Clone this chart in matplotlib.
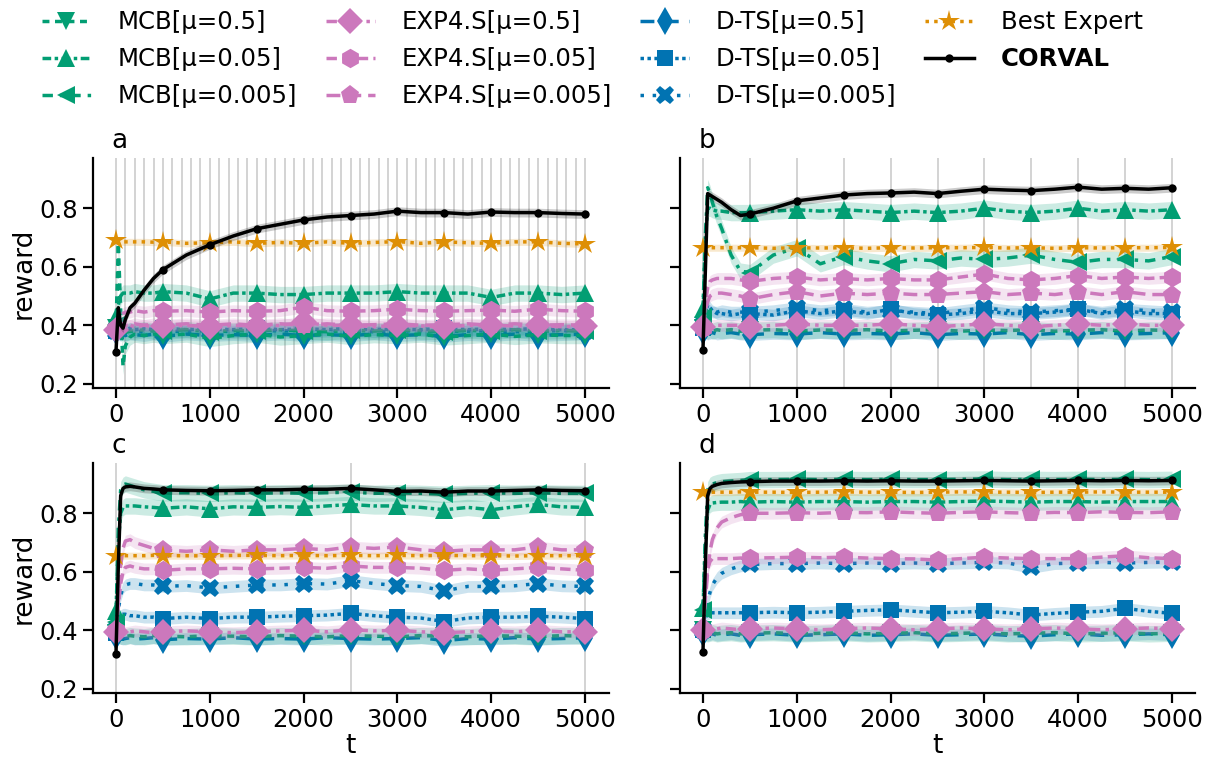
import numpy as np
import matplotlib
matplotlib.use("Agg")
import matplotlib.pyplot as plt

plt.rcParams["font.family"] = ["DejaVu Sans"]

# time steps at which the curves were logged
T = [0, 25, 50, 75, 100, 150, 200,
     300, 400, 500, 750, 1000, 1250, 1500,
     1750, 2000, 2250, 2500, 2750, 3000, 3250,
     3500, 3750, 4000, 4250, 4500, 4750, 5000]

# ---- panel a ----
a_mcb1 = [0.39, 0.68, 0.45, 0.26, 0.33, 0.36, 0.37,
          0.365, 0.37, 0.365, 0.37, 0.355, 0.365, 0.37,
          0.36, 0.365, 0.37, 0.362, 0.368, 0.365, 0.37,
          0.36, 0.365, 0.37, 0.362, 0.368, 0.365, 0.365]
a_mcb2 = [0.43, 0.47, 0.50, 0.51, 0.51, 0.51, 0.515,
          0.51, 0.51, 0.515, 0.51, 0.49, 0.51, 0.51,
          0.505, 0.505, 0.51, 0.51, 0.51, 0.515, 0.51,
          0.51, 0.51, 0.495, 0.51, 0.51, 0.505, 0.51]
a_mcb3 = [0.40, 0.43, 0.39, 0.37, 0.375, 0.38, 0.38,
          0.385, 0.38, 0.38, 0.385, 0.378, 0.382, 0.38,
          0.385, 0.38, 0.378, 0.383, 0.38, 0.385, 0.38,
          0.378, 0.383, 0.38, 0.385, 0.38, 0.382, 0.38]
a_exp1 = [0.385, 0.39, 0.395, 0.395, 0.395, 0.40, 0.395,
          0.40, 0.395, 0.398, 0.40, 0.395, 0.40, 0.398,
          0.40, 0.41, 0.40, 0.40, 0.395, 0.40, 0.398,
          0.395, 0.40, 0.40, 0.398, 0.40, 0.395, 0.398]
a_exp2 = [0.39, 0.41, 0.43, 0.44, 0.445, 0.445, 0.45,
          0.445, 0.45, 0.448, 0.45, 0.445, 0.45, 0.448,
          0.45, 0.462, 0.45, 0.448, 0.45, 0.455, 0.45,
          0.448, 0.45, 0.452, 0.448, 0.455, 0.45, 0.448]
a_exp3 = [0.39, 0.40, 0.40, 0.405, 0.40, 0.40, 0.405,
          0.40, 0.405, 0.40, 0.405, 0.40, 0.405, 0.40,
          0.405, 0.40, 0.405, 0.40, 0.402, 0.405, 0.40,
          0.402, 0.405, 0.40, 0.405, 0.40, 0.402, 0.40]
a_dts1 = [0.38, 0.37, 0.365, 0.37, 0.365, 0.37, 0.368,
          0.365, 0.37, 0.362, 0.37, 0.365, 0.368, 0.365,
          0.37, 0.365, 0.368, 0.365, 0.37, 0.365, 0.368,
          0.362, 0.368, 0.365, 0.37, 0.365, 0.368, 0.37]
a_dts2 = [0.38, 0.385, 0.39, 0.385, 0.385, 0.39, 0.385,
          0.388, 0.385, 0.39, 0.385, 0.388, 0.385, 0.39,
          0.385, 0.388, 0.385, 0.39, 0.385, 0.388, 0.385,
          0.39, 0.385, 0.388, 0.385, 0.39, 0.385, 0.385]
a_dts3 = [0.38, 0.375, 0.38, 0.378, 0.38, 0.382, 0.378,
          0.38, 0.382, 0.378, 0.38, 0.382, 0.378, 0.38,
          0.382, 0.378, 0.38, 0.382, 0.378, 0.38, 0.382,
          0.378, 0.38, 0.382, 0.378, 0.38, 0.382, 0.38]
a_best = [0.69, 0.685, 0.685, 0.685, 0.685, 0.685, 0.685,
          0.685, 0.684, 0.685, 0.68, 0.682, 0.685, 0.68,
          0.683, 0.68, 0.685, 0.68, 0.683, 0.686, 0.68,
          0.685, 0.682, 0.68, 0.685, 0.685, 0.68, 0.678]
a_corval = [0.31, 0.46, 0.40, 0.39, 0.42, 0.46, 0.475,
            0.52, 0.56, 0.59, 0.64, 0.675, 0.705, 0.73,
            0.745, 0.76, 0.77, 0.775, 0.78, 0.79, 0.785,
            0.785, 0.78, 0.787, 0.785, 0.785, 0.782, 0.78]

# ---- panel b ----
b_mcb1 = [0.39, 0.385, 0.38, 0.385, 0.38, 0.385, 0.382,
          0.385, 0.38, 0.383, 0.385, 0.38, 0.384, 0.382,
          0.385, 0.38, 0.383, 0.385, 0.38, 0.384, 0.382,
          0.385, 0.38, 0.383, 0.385, 0.38, 0.384, 0.382]
b_mcb2 = [0.455, 0.70, 0.80, 0.80, 0.795, 0.79, 0.79,
          0.785, 0.785, 0.785, 0.79, 0.795, 0.79, 0.795,
          0.79, 0.785, 0.79, 0.785, 0.79, 0.80, 0.79,
          0.785, 0.79, 0.80, 0.79, 0.795, 0.79, 0.795]
b_mcb3 = [0.43, 0.70, 0.87, 0.85, 0.82, 0.77, 0.73,
          0.64, 0.585, 0.58, 0.64, 0.665, 0.61, 0.635,
          0.62, 0.61, 0.625, 0.62, 0.63, 0.625, 0.63,
          0.64, 0.625, 0.615, 0.625, 0.625, 0.62, 0.635]
b_exp1 = [0.395, 0.40, 0.40, 0.40, 0.40, 0.40, 0.40,
          0.40, 0.40, 0.395, 0.40, 0.405, 0.40, 0.40,
          0.40, 0.405, 0.40, 0.395, 0.40, 0.405, 0.40,
          0.395, 0.40, 0.405, 0.40, 0.405, 0.40, 0.40]
b_exp2 = [0.39, 0.47, 0.53, 0.55, 0.555, 0.56, 0.56,
          0.56, 0.555, 0.55, 0.56, 0.565, 0.555, 0.56,
          0.555, 0.56, 0.555, 0.555, 0.565, 0.575, 0.56,
          0.555, 0.56, 0.57, 0.56, 0.565, 0.56, 0.565]
b_exp3 = [0.39, 0.45, 0.48, 0.50, 0.505, 0.51, 0.51,
          0.505, 0.50, 0.49, 0.505, 0.515, 0.50, 0.51,
          0.505, 0.51, 0.505, 0.505, 0.51, 0.515, 0.505,
          0.51, 0.505, 0.515, 0.505, 0.515, 0.505, 0.505]
b_dts1 = [0.38, 0.375, 0.37, 0.372, 0.375, 0.37, 0.372,
          0.375, 0.37, 0.368, 0.372, 0.37, 0.375, 0.37,
          0.372, 0.37, 0.375, 0.368, 0.372, 0.37, 0.375,
          0.368, 0.372, 0.37, 0.375, 0.37, 0.372, 0.375]
b_dts2 = [0.39, 0.44, 0.47, 0.46, 0.45, 0.44, 0.44,
          0.435, 0.44, 0.44, 0.435, 0.45, 0.44, 0.45,
          0.44, 0.455, 0.44, 0.435, 0.44, 0.45, 0.44,
          0.44, 0.445, 0.455, 0.44, 0.45, 0.44, 0.44]
b_dts3 = [0.40, 0.43, 0.45, 0.45, 0.445, 0.445, 0.45,
          0.445, 0.445, 0.445, 0.45, 0.46, 0.45, 0.455,
          0.445, 0.45, 0.445, 0.44, 0.45, 0.46, 0.45,
          0.445, 0.45, 0.455, 0.445, 0.455, 0.45, 0.445]
b_best = [0.665, 0.665, 0.665, 0.665, 0.665, 0.665, 0.665,
          0.665, 0.665, 0.665, 0.663, 0.665, 0.664, 0.665,
          0.663, 0.665, 0.664, 0.665, 0.665, 0.666, 0.664,
          0.665, 0.663, 0.665, 0.664, 0.665, 0.665, 0.666]
b_corval = [0.315, 0.58, 0.85, 0.845, 0.84, 0.83, 0.82,
            0.795, 0.775, 0.78, 0.80, 0.825, 0.835, 0.845,
            0.85, 0.852, 0.855, 0.85, 0.858, 0.865, 0.862,
            0.86, 0.865, 0.872, 0.865, 0.868, 0.865, 0.87]

# ---- panel c ----
c_mcb1 = [0.39, 0.385, 0.38, 0.38, 0.378, 0.382, 0.38,
          0.378, 0.382, 0.38, 0.378, 0.382, 0.38, 0.378,
          0.382, 0.38, 0.378, 0.382, 0.38, 0.378, 0.382,
          0.38, 0.378, 0.382, 0.38, 0.378, 0.382, 0.38]
c_mcb2 = [0.465, 0.70, 0.80, 0.82, 0.825, 0.825, 0.825,
          0.822, 0.82, 0.817, 0.822, 0.815, 0.822, 0.82,
          0.823, 0.82, 0.825, 0.83, 0.825, 0.825, 0.82,
          0.812, 0.82, 0.812, 0.822, 0.83, 0.822, 0.82]
c_mcb3 = [0.43, 0.75, 0.88, 0.895, 0.90, 0.895, 0.89,
          0.88, 0.875, 0.87, 0.87, 0.868, 0.87, 0.868,
          0.87, 0.868, 0.87, 0.872, 0.868, 0.87, 0.868,
          0.865, 0.868, 0.87, 0.868, 0.87, 0.868, 0.868]
c_exp1 = [0.395, 0.395, 0.39, 0.395, 0.392, 0.395, 0.398,
          0.395, 0.392, 0.395, 0.398, 0.395, 0.392, 0.395,
          0.398, 0.4, 0.395, 0.402, 0.398, 0.4, 0.395,
          0.392, 0.395, 0.398, 0.395, 0.4, 0.395, 0.395]
c_exp2 = [0.40, 0.48, 0.56, 0.60, 0.615, 0.62, 0.615,
          0.61, 0.61, 0.605, 0.61, 0.61, 0.612, 0.61,
          0.612, 0.615, 0.612, 0.62, 0.615, 0.615, 0.612,
          0.605, 0.61, 0.605, 0.61, 0.615, 0.61, 0.605]
c_exp3 = [0.40, 0.50, 0.62, 0.68, 0.705, 0.71, 0.70,
          0.69, 0.68, 0.675, 0.67, 0.675, 0.67, 0.675,
          0.675, 0.68, 0.675, 0.685, 0.68, 0.685, 0.675,
          0.67, 0.675, 0.675, 0.675, 0.685, 0.675, 0.675]
c_dts1 = [0.38, 0.375, 0.372, 0.37, 0.372, 0.375, 0.37,
          0.372, 0.375, 0.368, 0.372, 0.37, 0.375, 0.37,
          0.372, 0.37, 0.375, 0.372, 0.37, 0.372, 0.375,
          0.365, 0.372, 0.37, 0.375, 0.37, 0.372, 0.375]
c_dts2 = [0.39, 0.43, 0.45, 0.455, 0.455, 0.45, 0.45,
          0.445, 0.445, 0.44, 0.445, 0.44, 0.445, 0.445,
          0.448, 0.45, 0.452, 0.458, 0.45, 0.445, 0.442,
          0.43, 0.442, 0.445, 0.445, 0.448, 0.445, 0.44]
c_dts3 = [0.40, 0.47, 0.52, 0.545, 0.555, 0.56, 0.56,
          0.555, 0.555, 0.55, 0.553, 0.545, 0.55, 0.555,
          0.555, 0.56, 0.558, 0.57, 0.56, 0.553, 0.55,
          0.535, 0.55, 0.55, 0.552, 0.56, 0.552, 0.55]
c_best = [0.655, 0.655, 0.655, 0.655, 0.655, 0.655, 0.655,
          0.655, 0.656, 0.655, 0.655, 0.654, 0.656, 0.656,
          0.655, 0.656, 0.655, 0.656, 0.655, 0.656, 0.655,
          0.656, 0.655, 0.655, 0.654, 0.655, 0.655, 0.655]
c_corval = [0.32, 0.62, 0.86, 0.885, 0.89, 0.892, 0.89,
            0.885, 0.883, 0.88, 0.878, 0.877, 0.878, 0.88,
            0.88, 0.882, 0.882, 0.885, 0.88, 0.875, 0.876,
            0.872, 0.876, 0.876, 0.878, 0.88, 0.878, 0.877]

# ---- panel d ----
d_mcb1 = [0.40, 0.39, 0.388, 0.39, 0.392, 0.388, 0.39,
          0.392, 0.388, 0.39, 0.392, 0.388, 0.39, 0.392,
          0.388, 0.39, 0.392, 0.388, 0.39, 0.392, 0.388,
          0.39, 0.392, 0.388, 0.39, 0.392, 0.388, 0.39]
d_mcb2 = [0.475, 0.68, 0.81, 0.83, 0.835, 0.837, 0.838,
          0.838, 0.84, 0.838, 0.84, 0.838, 0.84, 0.84,
          0.838, 0.84, 0.84, 0.838, 0.84, 0.842, 0.84,
          0.838, 0.84, 0.84, 0.838, 0.84, 0.84, 0.84]
d_mcb3 = [0.47, 0.72, 0.88, 0.895, 0.90, 0.905, 0.908,
          0.91, 0.912, 0.915, 0.915, 0.916, 0.915, 0.916,
          0.915, 0.916, 0.915, 0.915, 0.916, 0.917, 0.915,
          0.916, 0.915, 0.916, 0.915, 0.916, 0.915, 0.916]
d_exp1 = [0.40, 0.405, 0.40, 0.405, 0.402, 0.405, 0.408,
          0.405, 0.402, 0.405, 0.408, 0.405, 0.402, 0.405,
          0.408, 0.405, 0.402, 0.405, 0.408, 0.405, 0.402,
          0.405, 0.408, 0.405, 0.402, 0.405, 0.408, 0.405]
d_exp2 = [0.40, 0.53, 0.61, 0.635, 0.645, 0.645, 0.645,
          0.645, 0.647, 0.647, 0.648, 0.65, 0.648, 0.65,
          0.647, 0.645, 0.644, 0.64, 0.645, 0.65, 0.647,
          0.645, 0.645, 0.645, 0.65, 0.655, 0.648, 0.645]
d_exp3 = [0.40, 0.50, 0.60, 0.67, 0.71, 0.75, 0.77,
          0.785, 0.795, 0.80, 0.80, 0.802, 0.80, 0.803,
          0.802, 0.805, 0.802, 0.80, 0.803, 0.805, 0.802,
          0.80, 0.803, 0.802, 0.805, 0.803, 0.802, 0.805]
d_dts1 = [0.39, 0.385, 0.383, 0.385, 0.388, 0.383, 0.385,
          0.388, 0.383, 0.385, 0.388, 0.383, 0.385, 0.388,
          0.383, 0.385, 0.388, 0.383, 0.385, 0.388, 0.383,
          0.38, 0.385, 0.388, 0.383, 0.385, 0.388, 0.385]
d_dts2 = [0.40, 0.44, 0.455, 0.46, 0.46, 0.46, 0.46,
          0.46, 0.46, 0.46, 0.462, 0.46, 0.462, 0.465,
          0.468, 0.47, 0.465, 0.46, 0.462, 0.465, 0.46,
          0.452, 0.458, 0.462, 0.465, 0.475, 0.465, 0.458]
d_dts3 = [0.40, 0.46, 0.50, 0.53, 0.555, 0.58, 0.595,
          0.61, 0.62, 0.625, 0.628, 0.628, 0.63, 0.628,
          0.63, 0.628, 0.63, 0.628, 0.63, 0.632, 0.63,
          0.615, 0.628, 0.63, 0.632, 0.63, 0.632, 0.633]
d_best = [0.873, 0.872, 0.872, 0.872, 0.872, 0.872, 0.872,
          0.872, 0.873, 0.872, 0.872, 0.871, 0.872, 0.873,
          0.872, 0.872, 0.871, 0.872, 0.873, 0.872, 0.872,
          0.871, 0.872, 0.872, 0.873, 0.872, 0.872, 0.872]
d_corval = [0.325, 0.62, 0.86, 0.885, 0.892, 0.898, 0.902,
            0.905, 0.907, 0.908, 0.91, 0.91, 0.91, 0.911,
            0.91, 0.911, 0.91, 0.91, 0.911, 0.912, 0.911,
            0.91, 0.911, 0.912, 0.911, 0.912, 0.911, 0.912]

LABELS = ["MCB[μ=0.5]", "MCB[μ=0.05]", "MCB[μ=0.005]",
          "EXP4.S[μ=0.5]", "EXP4.S[μ=0.05]", "EXP4.S[μ=0.005]",
          "D-TS[μ=0.5]", "D-TS[μ=0.05]", "D-TS[μ=0.005]",
          "Best Expert", "CORVAL"]

# half width of the confidence band for each method
BAND = [0.028, 0.028, 0.028, 0.02, 0.02, 0.02, 0.02, 0.02, 0.02, 0.012, 0.015]

# change points of the environment, one list per panel
CHANGES_A = list(range(0, 5001, 100))
CHANGES_B = list(range(0, 5001, 500))
CHANGES_C = [0, 2500, 5000]
CHANGES_D = []

green, pink, blue, orange = "#029e73", "#cc78bc", "#0173b2", "#de8f05"
COLORS = [green, green, green, pink, pink, pink, blue, blue, blue, orange, "black"]
MARKERS = ["v", "^", "<", "D", "h", "p", "d", "s", "X", "*", "."]
MSIZE = [13, 13, 13, 13, 14, 14, 14, 12, 13, 16, 12]
DASHES = [(2, 1.6), (2.5, 1, 1, 1), (3, 2, 1, 2),
          (3, 1.5, 1, 1.5), (3, 1.5), (4, 2),
          (4, 3), (1, 1), (1, 2.5),
          (1, 1.5), None]
ZORDER = [3, 3, 3, 4, 4, 4, 2, 2, 2, 5, 6]

panels = [
    ("a", [a_mcb1, a_mcb2, a_mcb3, a_exp1, a_exp2, a_exp3, a_dts1, a_dts2, a_dts3, a_best, a_corval], CHANGES_A),
    ("b", [b_mcb1, b_mcb2, b_mcb3, b_exp1, b_exp2, b_exp3, b_dts1, b_dts2, b_dts3, b_best, b_corval], CHANGES_B),
    ("c", [c_mcb1, c_mcb2, c_mcb3, c_exp1, c_exp2, c_exp3, c_dts1, c_dts2, c_dts3, c_best, c_corval], CHANGES_C),
    ("d", [d_mcb1, d_mcb2, d_mcb3, d_exp1, d_exp2, d_exp3, d_dts1, d_dts2, d_dts3, d_best, d_corval], CHANGES_D),
]

marks = [T.index(m) for m in range(0, 5001, 500)]

fig, axes = plt.subplots(2, 2, figsize=(12.11, 7.59), dpi=100, sharey=True)
fig.subplots_adjust(left=0.0764, right=0.9872, bottom=0.087, top=0.792, wspace=0.1376, hspace=0.326)

for ax, (name, series, changes) in zip(axes.flat, panels):
    for c in changes:
        ax.axvline(c, color="#c8c8c8", lw=1.1, zorder=1)
    for i, vals in enumerate(series):
        y = np.array(vals)
        ax.fill_between(T, y - BAND[i], y + BAND[i], color=COLORS[i], alpha=0.2,
                        lw=0, zorder=ZORDER[i])
        line, = ax.plot(T, y, color=COLORS[i], lw=2.5, marker=MARKERS[i], ms=MSIZE[i],
                        mew=0, markevery=marks, zorder=ZORDER[i] + 0.5, label=LABELS[i])
        if DASHES[i] is not None:
            line.set_dashes(DASHES[i])

    ax.set_xlim(-250, 5250)
    ax.set_ylim(0.186, 0.972)
    ax.set_xticks(range(0, 5001, 1000))
    ax.set_yticks([0.2, 0.4, 0.6, 0.8])
    ax.spines["top"].set_visible(False)
    ax.spines["right"].set_visible(False)
    for s in ("left", "bottom"):
        ax.spines[s].set_linewidth(1.6)
    ax.tick_params(length=7, width=1.6, labelsize=17.5)
    ax.text(0.037, 1.015, name, transform=ax.transAxes, fontsize=19, va="bottom")

axes[0, 0].set_ylabel("reward", fontsize=19, labelpad=2)
axes[1, 0].set_ylabel("reward", fontsize=19, labelpad=2)
axes[1, 0].set_xlabel("t", fontsize=19, labelpad=1)
axes[1, 1].set_xlabel("t", fontsize=19, labelpad=1)
axes[0, 1].tick_params(labelleft=False)
axes[1, 1].tick_params(labelleft=False)

handles, labels = axes[0, 0].get_legend_handles_labels()
leg = fig.legend(handles, labels, loc="upper left", bbox_to_anchor=(0.0165, 1.0155),
                 ncol=4, frameon=False, fontsize=17.6, handlelength=2.0,
                 columnspacing=1.16, handletextpad=1.1, labelspacing=0.53)
leg.get_texts()[-1].set_fontweight("bold")

fig.savefig("out.png", dpi=100)
